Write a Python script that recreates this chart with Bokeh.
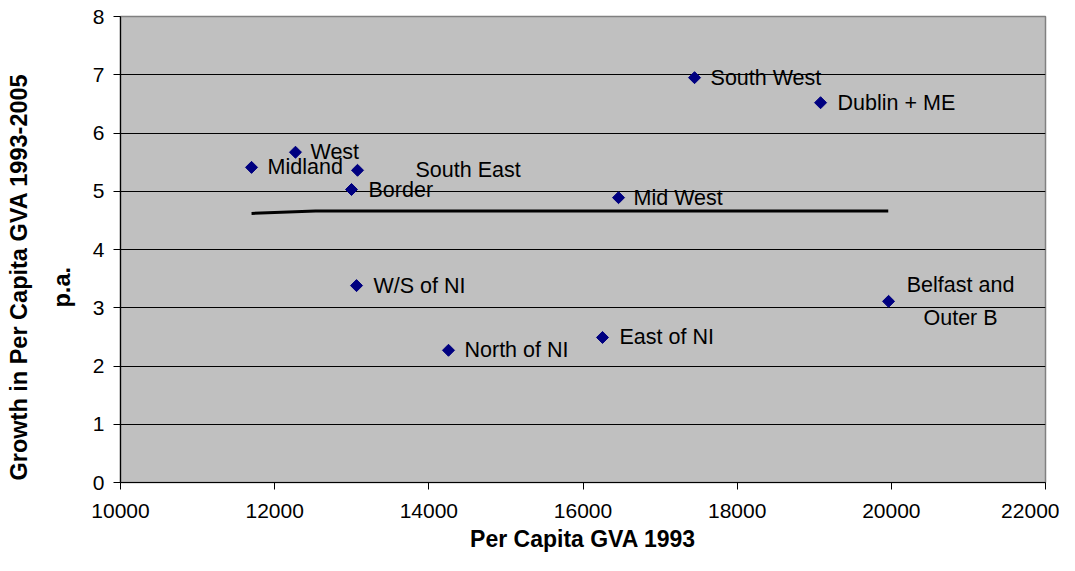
from bokeh.plotting import figure
from bokeh.models import ColumnDataSource, FixedTicker, Range1d, Title
from bokeh.embed import file_html
from bokeh.resources import INLINE
from bokeh.core.properties import value
import math

# ---- data ----
regions = ["Midland", "West", "South East", "Border", "Mid West", "South West",
           "Dublin + ME", "W/S of NI", "North of NI", "East of NI", "Belfast and\nOuter B"]
gva_1993 = [11700, 12270, 13075, 12997, 16461, 17447, 19082, 13062, 14255, 16253, 19964]
growth = [5.41, 5.67, 5.36, 5.03, 4.89, 6.95, 6.52, 3.38, 2.27, 2.49, 3.11]
trend_x = [11700, 12530, 19960]
trend_y = [4.62, 4.66, 4.66]
x_ticks = [10000, 12000, 14000, 16000, 18000, 20000, 22000]
y_ticks = [0, 1, 2, 3, 4, 5, 6, 7, 8]
x_title = "Per Capita GVA 1993"
y_title_line1 = "Growth in Per Capita GVA 1993-2005"
y_title_line2 = "p.a."

# label placement (styling)
label_dx = [16, 15, 58, 17, 15, 16, 17, 17, 16, 17, 72]
label_align = ["left"] * 10 + ["center"]

FONT = "Liberation Sans"

p = figure(width=1059, height=555, output_backend="svg", toolbar_location=None,
           x_range=Range1d(10000, 22000), y_range=Range1d(0, 8),
           min_border_left=120, min_border_right=14, min_border_top=16,
           min_border_bottom=73)

p.background_fill_color = "#C0C0C0"
p.border_fill_color = "white"
p.outline_line_color = "#808080"
p.outline_line_width = 1.5

# axes
p.xaxis.ticker = FixedTicker(ticks=x_ticks)
p.yaxis.ticker = FixedTicker(ticks=y_ticks)
for ax in (p.xaxis[0], p.yaxis[0]):
    ax.major_label_text_font = FONT
    ax.major_label_text_font_size = "21px"
    ax.major_label_text_color = "black"
    ax.axis_line_color = "black"
    ax.axis_line_width = 1.2
    ax.major_tick_line_color = "black"
    ax.major_tick_out = 7
    ax.major_tick_in = 0
    ax.minor_tick_line_color = None
    ax.axis_label_text_font = FONT
    ax.axis_label_text_font_style = "bold"
    ax.axis_label_text_font_size = "23px"
    ax.axis_label_text_color = "black"

p.xaxis.major_label_standoff = 14
p.yaxis.major_label_standoff = 9
p.xaxis.axis_label = x_title
p.xaxis.axis_label_standoff = 5

p.xgrid.grid_line_color = None
p.ygrid.grid_line_color = "black"
p.ygrid.grid_line_width = 1

# y axis title: two rotated lines in the left panel
t2 = Title(text=y_title_line2, align="left", offset=175, standoff=30,
           text_font=FONT, text_font_style="bold", text_font_size="23.5px",
           text_color="black")
t1 = Title(text=y_title_line1, align="left", offset=2, standoff=0,
           text_font=FONT, text_font_style="bold", text_font_size="23.5px",
           text_color="black")
p.add_layout(t2, "left")
p.add_layout(t1, "left")

# trend line
p.line(trend_x, trend_y, line_color="black", line_width=3)

# points
src = ColumnDataSource(dict(x=gva_1993, y=growth, name=regions,
                            dx=label_dx, align=label_align))
p.scatter("x", "y", source=src, marker="square", size=8.5, angle=math.pi / 4,
          fill_color="#000080", line_color="#000080")

p.text("x", "y", text="name", source=src, x_offset="dx", y_offset=0,
       text_align="align", text_baseline="middle",
       text_font=value(FONT), text_font_size="21.5px", text_color="black",
       text_line_height=1.4)

open("out.html", "w").write(file_html(p, INLINE))
